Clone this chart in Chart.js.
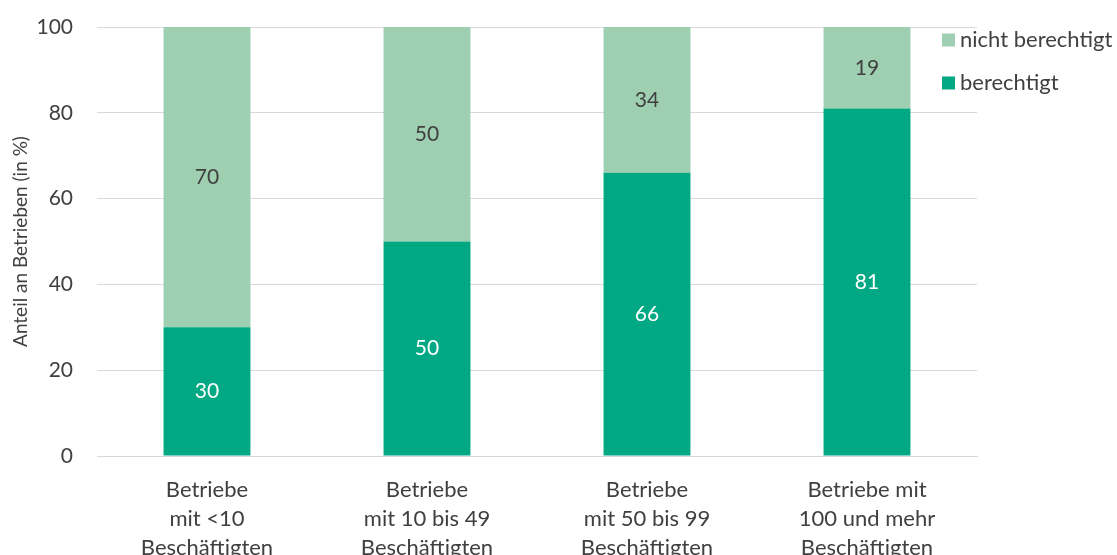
<!DOCTYPE html>
<html><head><meta charset="utf-8">
<script src="https://cdn.jsdelivr.net/npm/chart.js@4"></script>
<style>html,body{margin:0;padding:0;background:#fff;overflow:hidden}#wrap{width:1117px;height:555px;position:relative}</style>
</head><body><div id="wrap"><canvas id="c"></canvas></div>
<script>
const categories = [["Betriebe","mit <10","Beschäftigten"],["Betriebe","mit 10 bis 49","Beschäftigten"],["Betriebe","mit 50 bis 99","Beschäftigten"],["Betriebe mit","100 und mehr","Beschäftigten"]];
const berechtigt = [30, 50, 66, 81];
const nichtBerechtigt = [70, 50, 34, 19];
const yTicks = [0, 20, 40, 60, 80, 100];
const FONT = "Lato, 'Open Sans', sans-serif";
const TXT = '#404040';

const labelPlugin = {
  id: 'labels',
  afterDatasetsDraw(chart) {
    const ctx = chart.ctx;
    ctx.save();
    ctx.font = '21px ' + FONT;
    ctx.textAlign = 'center';
    ctx.textBaseline = 'middle';
    chart.data.datasets.forEach((ds, i) => {
      const meta = chart.getDatasetMeta(i);
      meta.data.forEach((bar, j) => {
        const y = (bar.y + bar.base) / 2;
        ctx.fillStyle = ds.labelColor;
        ctx.fillText(String(ds.data[j]), bar.x, y);
      });
    });
    const items = [chart.data.datasets[1], chart.data.datasets[0]];
    ctx.font = '22px ' + FONT;
    ctx.textAlign = 'left';
    items.forEach((ds, k) => {
      const y = 40 + k * 43;
      ctx.fillStyle = ds.backgroundColor;
      ctx.fillRect(942, y - 6.5, 13, 13);
      ctx.fillStyle = TXT;
      ctx.fillText(ds.label, 960, y);
    });
    ctx.restore();
  }
};

new Chart(document.getElementById('c'), {
  type: 'bar',
  data: {
    labels: categories,
    datasets: [
      { label: 'berechtigt', data: berechtigt, backgroundColor: '#00a984', labelColor: '#ffffff' },
      { label: 'nicht berechtigt', data: nichtBerechtigt, backgroundColor: '#9fcfb1', labelColor: TXT }
    ]
  },
  options: {
    responsive: true, maintainAspectRatio: false, animation: false,
    layout: { padding: { top: 27, right: 140, left: 0, bottom: 0 } },
    datasets: { bar: { categoryPercentage: 1, barPercentage: 0.395 } },
    plugins: { legend: { display: false }, tooltip: { enabled: false } },
    scales: {
      x: {
        stacked: true,
        grid: { display: false, drawTicks: false },
        border: { color: '#d9d9d9', width: 1 },
        ticks: { font: { size: 22, family: FONT, lineHeight: 1.32 }, color: TXT, padding: 19, maxRotation: 0, autoSkip: false },
        afterFit(s) { s.height = 99; }
      },
      y: {
        stacked: true, min: 0, max: 100,
        afterBuildTicks(s) { s.ticks = yTicks.map(v => ({ value: v })); },
        grid: { color: '#d9d9d9', drawTicks: true, tickLength: 24, tickColor: 'rgba(0,0,0,0)' },
        border: { display: false },
        ticks: { font: { size: 21, family: FONT }, color: TXT, padding: 0 },
        title: { display: true, text: 'Anteil an Betrieben (in %)', font: { size: 19, family: FONT }, color: TXT, padding: { top: 9, bottom: 0 } },
        afterFit(s) { s.width = 97; }
      }
    }
  },
  plugins: [labelPlugin]
});
</script></body></html>
